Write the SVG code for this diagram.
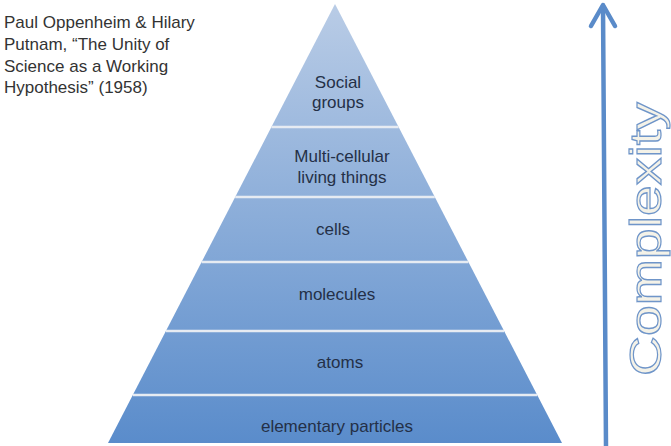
<svg xmlns="http://www.w3.org/2000/svg" width="671" height="446" viewBox="0 0 671 446">
  <defs>
    <linearGradient id="pyr" gradientUnits="userSpaceOnUse" x1="0" y1="4" x2="0" y2="443">
      <stop offset="0" stop-color="#b9cce6"/>
      <stop offset="1" stop-color="#5a8ccb"/>
    </linearGradient>
  </defs>
  <style>
    .band { fill: url(#pyr); }
    .sep { stroke: #e6ebf2; stroke-width: 2.5; }
    .lbl { font-family: "Liberation Sans", Arial, sans-serif; font-size: 17px; fill: #243047; text-anchor: middle; }
    .cap { font-family: "Liberation Sans", Arial, sans-serif; font-size: 17px; fill: #333333; }
    .arrow { stroke: #5a8bc9; stroke-width: 4.5; fill: none; stroke-linecap: round; stroke-linejoin: round; }
    .big { font-family: "Liberation Sans", Arial, sans-serif; font-size: 45px; fill: #f4f2e8; stroke: #6f95c9; stroke-width: 1.2; }
  </style>
  <rect width="671" height="446" fill="#ffffff"/>

  <g id="caption">
    <text class="cap" x="4" y="28">Paul Oppenheim &amp; Hilary</text>
    <text class="cap" x="4" y="50">Putnam, “The Unity of</text>
    <text class="cap" x="4" y="71.5">Science as a Working</text>
    <text class="cap" x="4" y="93">Hypothesis” (1958)</text>
  </g>

  <g id="social-groups">
    <polygon class="band" points="335,4 398.6,127 271.4,127"/>
    <text class="lbl" x="338" y="88">Social</text>
    <text class="lbl" x="338" y="108">groups</text>
  </g>
  <g id="multicellular">
    <polygon class="band" points="271.4,127 398.6,127 434.8,197 235.2,197"/>
    <text class="lbl" x="342" y="162">Multi-cellular</text>
    <text class="lbl" x="342" y="183">living things</text>
  </g>
  <g id="cells">
    <polygon class="band" points="235.2,197 434.8,197 468.4,262 201.6,262"/>
    <text class="lbl" x="333" y="235">cells</text>
  </g>
  <g id="molecules">
    <polygon class="band" points="201.6,262 468.4,262 504.1,331 165.9,331"/>
    <text class="lbl" x="337" y="300">molecules</text>
  </g>
  <g id="atoms">
    <polygon class="band" points="165.9,331 504.1,331 537.2,395 132.8,395"/>
    <text class="lbl" x="340" y="368">atoms</text>
  </g>
  <g id="elementary-particles">
    <polygon class="band" points="132.8,395 537.2,395 562,443 108,443"/>
    <text class="lbl" x="337" y="432">elementary particles</text>
  </g>

  <g id="connectors">
    <line class="sep" x1="271.4" y1="127" x2="398.6" y2="127"/>
    <line class="sep" x1="235.2" y1="197" x2="434.8" y2="197"/>
    <line class="sep" x1="201.6" y1="262" x2="468.4" y2="262"/>
    <line class="sep" x1="165.9" y1="331" x2="504.1" y2="331"/>
    <line class="sep" x1="132.8" y1="395" x2="537.2" y2="395"/>
    <line class="arrow" x1="606" y1="446" x2="603" y2="6"/>
    <polyline class="arrow" points="591,26 603,5 615,26"/>
  </g>

  <g id="complexity">
    <text class="big" transform="translate(661,376) rotate(-90) scale(1.23,1)">Complexity</text>
  </g>
</svg>
